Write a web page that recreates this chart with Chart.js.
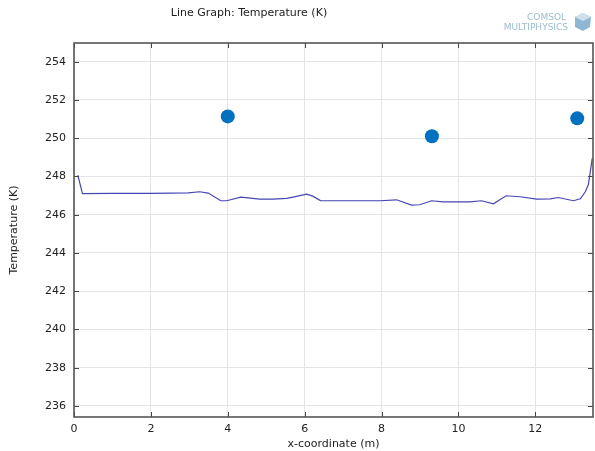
<!DOCTYPE html>
<html>
<head>
<meta charset="utf-8">
<script src="https://cdn.jsdelivr.net/npm/chart.js@4"></script>
<style>
  html, body { margin: 0; padding: 0; background: #fff; }
  #wrap { width: 595px; height: 451px; }
</style>
</head>
<body>
<div id="wrap"><canvas id="myChart" width="595" height="451"></canvas></div>
<script>
// line graph: temperature along x
const lineX = [0.1, 0.22, 1.0, 2.0, 2.97, 3.27, 3.49, 3.82, 3.97, 4.34, 4.83, 5.18, 5.53, 5.7, 6.05, 6.21, 6.41, 7.96, 8.39, 8.78, 8.99, 9.3, 9.6, 10.3, 10.6, 10.91, 11.24, 11.6, 12.04, 12.39, 12.6, 12.99, 13.17, 13.3, 13.38, 13.48];
const lineY = [248.07, 247.1, 247.12, 247.12, 247.14, 247.2, 247.13, 246.73, 246.73, 246.92, 246.81, 246.81, 246.85, 246.92, 247.07, 246.97, 246.74, 246.73, 246.78, 246.5, 246.52, 246.73, 246.67, 246.67, 246.73, 246.57, 246.99, 246.94, 246.81, 246.83, 246.9, 246.73, 246.83, 247.2, 247.58, 248.95];

// measured points
const pointX = [4.0, 9.31, 13.09];
const pointY = [251.14, 250.1, 251.04];

const xTicks = [0, 2, 4, 6, 8, 10, 12];
const yTicks = [236, 238, 240, 242, 244, 246, 248, 250, 252, 254];

const chartTitle = 'Line Graph: Temperature (K)';
const xTitle = 'x-coordinate (m)';
const yTitle = 'Temperature (K)';

const FONT = "'DejaVu Sans', sans-serif";

// inward tick marks, frame, title and logo
const decorPlugin = {
  id: 'decor',
  afterDraw(chart) {
    const ctx = chart.ctx;
    const a = chart.chartArea;
    const xs = chart.scales.x, ys = chart.scales.y;
    ctx.save();
    ctx.strokeStyle = '#444';
    ctx.lineWidth = 1;
    ctx.beginPath();
    xTicks.forEach(v => {
      const px = Math.round(xs.getPixelForValue(v)) + 0.5;
      ctx.moveTo(px, a.bottom); ctx.lineTo(px, a.bottom - 5);
      ctx.moveTo(px, a.top); ctx.lineTo(px, a.top + 5);
    });
    yTicks.forEach(v => {
      const py = Math.round(ys.getPixelForValue(v)) + 0.5;
      ctx.moveTo(a.left, py); ctx.lineTo(a.left + 5, py);
      ctx.moveTo(a.right, py); ctx.lineTo(a.right - 5, py);
    });
    ctx.stroke();
    ctx.strokeStyle = '#555';
    ctx.lineWidth = 1.6;
    ctx.strokeRect(a.left, a.top, a.right - a.left, a.bottom - a.top);

    // title
    ctx.fillStyle = '#222';
    ctx.font = '11px ' + FONT;
    ctx.textAlign = 'center';
    ctx.textBaseline = 'middle';
    ctx.fillText(chartTitle, 249, 13);

    // logo
    ctx.fillStyle = '#9bbbd0';
    ctx.textAlign = 'right';
    ctx.font = '9px ' + FONT;
    ctx.fillText('COMSOL', 566, 18);
    ctx.fillText('MULTIPHYSICS', 568, 28);
    ctx.fillStyle = '#8fb6d2';
    ctx.beginPath();
    ctx.moveTo(583, 13); ctx.lineTo(591, 17); ctx.lineTo(590, 27);
    ctx.lineTo(583, 31); ctx.lineTo(575, 27); ctx.lineTo(575, 17);
    ctx.closePath();
    ctx.fill();
    ctx.fillStyle = '#cfe0ec';
    ctx.beginPath();
    ctx.moveTo(583, 13); ctx.lineTo(591, 17); ctx.lineTo(583, 21); ctx.lineTo(575, 17);
    ctx.closePath();
    ctx.fill();
    ctx.restore();
  }
};

const config = {
  type: 'scatter',
  data: {
    datasets: [{
      label: 'Temperature',
      data: lineX.map((x, i) => ({ x: x, y: lineY[i] })),
      showLine: true,
      borderColor: '#4646b4',
      borderWidth: 1.2,
      pointRadius: 0,
      tension: 0
    }, {
      label: 'Points',
      data: pointX.map((x, i) => ({ x: x, y: pointY[i] })),
      showLine: false,
      backgroundColor: '#0070c0',
      borderColor: '#0070c0',
      pointRadius: 7,
      pointBorderWidth: 0
    }]
  },
  options: {
    responsive: false,
    animation: false,
    layout: { autoPadding: false, padding: { top: 43, right: 2, left: 0, bottom: 0 } },
    plugins: {
      legend: { display: false },
      tooltip: { enabled: false }
    },
    scales: {
      x: {
        type: 'linear',
        min: 0,
        max: 13.5,
        afterBuildTicks: s => { s.ticks = xTicks.map(v => ({ value: v })); },
        afterFit: s => { s.height = 34; },
        grid: { color: '#e4e4e4', drawTicks: false },
        border: { display: false },
        ticks: { color: '#222', font: { family: FONT, size: 11 }, padding: 6 },
        title: { display: true, text: xTitle, color: '#222', font: { family: FONT, size: 11 }, padding: { top: -3, bottom: 0 } }
      },
      y: {
        type: 'linear',
        min: 235.42,
        max: 254.98,
        afterBuildTicks: s => { s.ticks = yTicks.map(v => ({ value: v })); },
        afterFit: s => { s.width = 74; },
        grid: { color: '#e4e4e4', drawTicks: false },
        border: { display: false },
        ticks: { color: '#222', font: { family: FONT, size: 11 }, padding: 8 },
        title: { display: true, text: yTitle, color: '#222', font: { family: FONT, size: 11 }, padding: { top: 8, bottom: 0 } }
      }
    }
  },
  plugins: [decorPlugin]
};

document.addEventListener("DOMContentLoaded", function() {
  const ctx = document.getElementById('myChart').getContext('2d');
  new Chart(ctx, config);
});
</script>
</body>
</html>
